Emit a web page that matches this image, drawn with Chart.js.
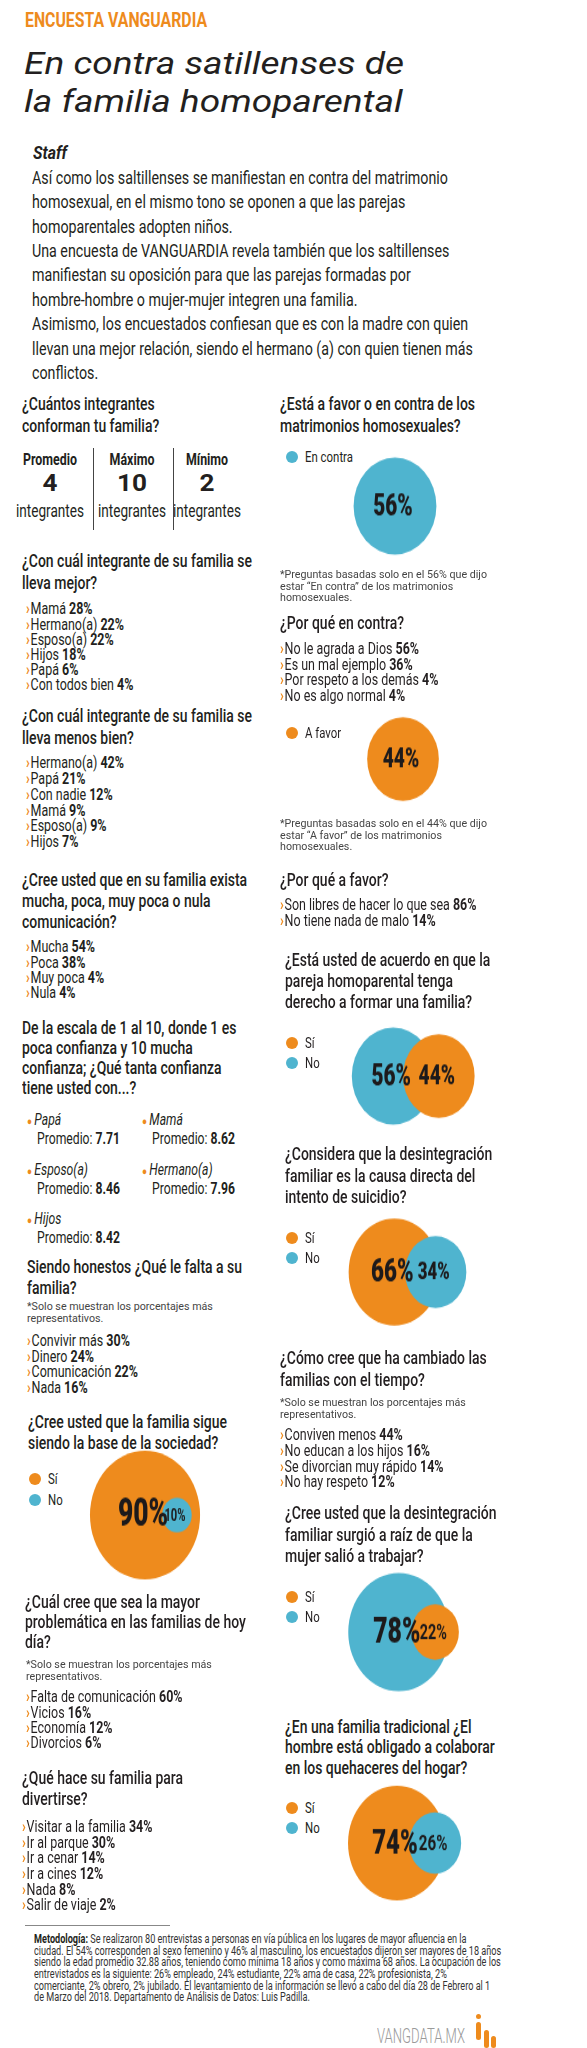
<!DOCTYPE html>
<html lang="es">
<head>
<meta charset="utf-8">
<title>En contra satillenses de la familia homoparental</title>
<script src="https://cdn.jsdelivr.net/npm/chart.js@4.4.1/dist/chart.umd.min.js"></script>
<style>
  html, body { margin: 0; padding: 0; background: #fff; }
  #page { position: relative; width: 587px; height: 2048px; overflow: hidden; color: #231f20;
    font-family: Roboto, "Liberation Sans", sans-serif; }
  .t { position: absolute; white-space: nowrap; transform-origin: 0 50%; }
  .kicker { color: #ee8b1d; font-weight: bold; font-size: 20px; }
  .title { font-style: italic; font-size: 32px; }
  .staff { font-weight: bold; font-style: italic; font-size: 18px; }
  .intro { font-size: 18px; }
  .q { font-size: 18.5px; font-weight: 500; }
  .li { font-size: 16px; }
  .li b, .conf b { font-weight: bold; }
  .arr { color: #ee8b1d; font-weight: bold; margin-right: 1px; }
  .note { font-size: 11px; color: #444; }
  .tab { font-weight: bold; font-size: 16px; text-align: center; width: 90px; transform-origin: 50% 50%; }
  .num { font-weight: bold; font-size: 23px; text-align: center; width: 90px; transform-origin: 50% 50%; }
  .unit { font-size: 18px; text-align: center; width: 90px; transform-origin: 50% 50%; }
  .conf { font-size: 16px; }
  .bul { color: #ee8b1d; font-size: 11px; margin-right: 3px; }
  .leg { font-size: 15.5px; }
  .dot { position: absolute; width: 12px; height: 12px; border-radius: 50%; }
  .metodo { font-size: 12px; color: #333; }
  .brand { font-size: 21px; font-weight: 300; color: #9a9a9a; }
  .bubble { position: absolute; transform-origin: 0 0; }
</style>
</head>
<body>
<div id="page"></div>
<script>
const integrantesLabels = ['Promedio', 'Máximo', 'Mínimo'];
const integrantesValues = [4, 10, 2];

const mejorLabels = ['Mamá', 'Hermano(a)', 'Esposo(a)', 'Hijos', 'Papá', 'Con todos bien'];
const mejorValues = [28, 22, 22, 18, 6, 4];

const menosLabels = ['Hermano(a)', 'Papá', 'Con nadie', 'Mamá', 'Esposo(a)', 'Hijos'];
const menosValues = [42, 21, 12, 9, 9, 7];

const comunicacionLabels = ['Mucha', 'Poca', 'Muy poca', 'Nula'];
const comunicacionValues = [54, 38, 4, 4];

const confianzaLabels = ['Papá', 'Mamá', 'Esposo(a)', 'Hermano(a)', 'Hijos'];
const confianzaValues = [7.71, 8.62, 8.46, 7.96, 8.42];

const faltaLabels = ['Convivir más', 'Dinero', 'Comunicación', 'Nada'];
const faltaValues = [30, 24, 22, 16];

const problemaLabels = ['Falta de comunicación', 'Vicios', 'Economía', 'Divorcios'];
const problemaValues = [60, 16, 12, 6];

const diversionLabels = ['Visitar a la familia', 'Ir al parque', 'Ir a cenar', 'Ir a cines', 'Nada', 'Salir de viaje'];
const diversionValues = [34, 30, 14, 12, 8, 2];

const contraLabels = ['No le agrada a Dios', 'Es un mal ejemplo', 'Por respeto a los demás', 'No es algo normal'];
const contraValues = [56, 36, 4, 4];

const favorLabels = ['Son libres de hacer lo que sea', 'No tiene nada de malo'];
const favorValues = [86, 14];

const cambioLabels = ['Conviven menos', 'No educan a los hijos', 'Se divorcian muy rápido', 'No hay respeto'];
const cambioValues = [44, 16, 14, 12];

// circle charts
const matrimonioLabels = ['En contra', 'A favor'];
const matrimonioValues = [56, 44];
const siNoLabels = ['Sí', 'No'];
const baseValues = [90, 10];
const derechoValues = [44, 56];
const suicidioValues = [66, 34];
const trabajarValues = [22, 78];
const hogarValues = [74, 26];

const ORANGE = '#ee8b1d';
const BLUE = '#4fb4cf';
const siNoColors = [ORANGE, BLUE];

// --- helpers ---
const page = document.getElementById('page');

// the original uses a condensed face: squeeze each text style to the measured widths
const widthTargets = {
  kicker: ['ENCUESTA VANGUARDIA', 182],
  title: ['En contra satillenses de', 380],
  staff: ['Staff', 34],
  intro: ['Así como los saltillenses se manifiestan en contra del matrimonio', 416],
  q: ['¿Con cuál integrante de su familia se', 230],
  li: ['<span class="arr">›</span>Hermano(a) <b>22%</b>', 98],
  note: ['*Preguntas basadas solo en el 56% que dijo', 207],
  tab: ['Promedio', 54],
  num: ['10', 30],
  unit: ['integrantes', 68],
  conf: ['Promedio: <b>8.62</b>', 83],
  leg: ['En contra', 48],
  metodo: ['ciudad. El 54% corresponden al sexo femenino y 46% al masculino, los encuestados dijeron ser mayores de 18 años', 467],
  brand: ['VANGDATA.MX', 88]
};
const squeeze = {};
Object.keys(widthTargets).forEach(cls => {
  const s = document.createElement('span');
  s.className = 't ' + cls;
  s.style.width = 'auto';
  s.style.visibility = 'hidden';
  s.innerHTML = widthTargets[cls][0];
  page.appendChild(s);
  squeeze[cls] = widthTargets[cls][1] / s.getBoundingClientRect().width;
  page.removeChild(s);
});

function put(x, yc, lh, html, cls) {
  const d = document.createElement('div');
  d.className = 't ' + cls;
  d.style.left = x + 'px';
  d.style.top = (yc - lh / 2) + 'px';
  d.style.lineHeight = lh + 'px';
  d.innerHTML = html;
  if (squeeze[cls]) d.style.transform = 'scaleX(' + squeeze[cls].toFixed(3) + ')';
  page.appendChild(d);
  return d;
}

function block(x, yc, lh, lines, cls) {
  return put(x, yc, lh, lines.join('<br>'), cls);
}

function list(x, yc, step, labels, values) {
  labels.forEach((lab, i) => {
    put(x, yc + i * step, step, '<span class="arr">›</span>' + lab + ' <b>' + values[i] + '%</b>', 'li');
  });
}

function legend(x, yc, step, labels, colors) {
  labels.forEach((lab, i) => {
    const y = yc + i * step;
    const d = document.createElement('div');
    d.className = 'dot';
    d.style.left = (x - 6) + 'px';
    d.style.top = (y - 6) + 'px';
    d.style.background = colors[i];
    page.appendChild(d);
    put(x + 13, y, 18, lab, 'leg');
  });
}

// radius grows with the value (softened, as in the original artwork)
function radiusFor(v) { return 3.7 * Math.pow(v, 0.6); }

const STRETCH = 1.17;

const pctLabels = {
  id: 'pctLabels',
  afterDatasetsDraw(chart) {
    const ctx = chart.ctx;
    chart.data.datasets.forEach((ds, i) => {
      const el = chart.getDatasetMeta(i).data[0];
      const r = ds.data[0].r;
      const fs = Math.round(7 + 0.47 * r);
      ctx.save();
      ctx.translate(el.x - 2, el.y + 1);
      ctx.scale(0.8, 1);
      ctx.fillStyle = '#1d1a1b';
      ctx.textAlign = 'center';
      ctx.textBaseline = 'middle';
      ctx.font = (r > 30 ? '900 ' : 'bold ') + fs + 'px Roboto, "Liberation Sans", sans-serif';
      ctx.fillText(ds.data[0].v + '%', 0, 0);
      ctx.restore();
    });
  }
};

// bubble chart: largest circle first, smaller one overlapping on its right
function circles(cx, cy, labels, values, colors) {
  const idx = values.map((v, i) => i).sort((a, b) => values[b] - values[a]);
  const pair = values.length > 1;
  const w = pair ? 174 : 130, h = 130;
  const padL = pair ? 30 : 0, padR = pair ? 30 : 0;
  const firstX = pair ? padL + (w - padL - padR) / 4 : w / 2;
  const wrap = document.createElement('div');
  wrap.className = 'bubble';
  wrap.style.left = (cx - firstX) + 'px';
  wrap.style.top = (cy - h / 2 * STRETCH) + 'px';
  wrap.style.width = w + 'px';
  wrap.style.height = h + 'px';
  wrap.style.transform = 'scaleY(' + STRETCH + ')';
  const cv = document.createElement('canvas');
  cv.width = w; cv.height = h;
  wrap.appendChild(cv);
  page.appendChild(wrap);
  new Chart(cv, {
    type: 'bubble',
    data: {
      labels: idx.map(i => labels[i]),
      datasets: idx.map(i => ({
        label: labels[i],
        data: [{ x: labels[i], y: 0, r: radiusFor(values[i]), v: values[i] }],
        backgroundColor: colors[i],
        borderWidth: 0,
        order: values[i],
        clip: false
      }))
    },
    options: {
      responsive: false,
      animation: false,
      events: [],
      layout: { padding: { left: padL, right: padR, top: 0, bottom: 0 } },
      plugins: { legend: { display: false }, tooltip: { enabled: false } },
      scales: {
        x: { type: 'category', offset: true, display: false },
        y: { type: 'linear', min: -1, max: 1, display: false }
      }
    },
    plugins: [pctLabels]
  });
}

// --- header ---
put(25, 20, 20, 'ENCUESTA VANGUARDIA', 'kicker');
block(24, 63, 38, ['En contra satillenses de', 'la familia homoparental'], 'title');
put(33, 153, 18, 'Staff', 'staff');
block(32, 178, 24.4, [
  'Así como los saltillenses se manifiestan en contra del matrimonio',
  'homosexual, en el mismo tono se oponen a que las parejas',
  'homoparentales adopten niños.',
  'Una encuesta de VANGUARDIA revela también que los saltillenses',
  'manifiestan su oposición para que las parejas formadas por',
  'hombre-hombre o mujer-mujer integren una familia.',
  'Asimismo, los encuestados confiesan que es con la madre con quien',
  'llevan una mejor relación, siendo el hermano (a) con quien tienen más',
  'conflictos.'
], 'intro');

// --- left column ---
block(22, 405, 21.7, ['¿Cuántos integrantes', 'conforman tu familia?'], 'q');
const tabX = [50, 132, 207];
integrantesLabels.forEach((lab, i) => {
  put(tabX[i] - 45, 460, 16, lab, 'tab');
  put(tabX[i] - 45, 484, 18, String(integrantesValues[i]), 'num');
  put(tabX[i] - 45, 510, 15, 'integrantes', 'unit');
});
[93, 173].forEach(x => {
  const d = document.createElement('div');
  d.style.cssText = 'position:absolute;left:' + x + 'px;top:448px;width:1px;height:82px;background:#444;';
  page.appendChild(d);
});

block(22, 562, 21.5, ['¿Con cuál integrante de su familia se', 'lleva mejor?'], 'q');
list(26, 609, 15.2, mejorLabels, mejorValues);

block(22, 717, 21.5, ['¿Con cuál integrante de su familia se', 'lleva menos bien?'], 'q');
list(26, 763, 15.8, menosLabels, menosValues);

block(22, 880, 21, ['¿Cree usted que en su familia exista', 'mucha, poca, muy poca o nula', 'comunicación?'], 'q');
list(26, 947, 15.3, comunicacionLabels, comunicacionValues);

block(22, 1028, 20, ['De la escala de 1 al 10, donde 1 es', 'poca confianza y 10 mucha', 'confianza; ¿Qué tanta confianza', 'tiene usted con...?'], 'q');
const confPos = [[27, 1120], [142, 1120], [27, 1170], [142, 1170], [27, 1219]];
confianzaLabels.forEach((lab, i) => {
  const [x, y] = confPos[i];
  put(x, y, 18, '<span class="bul">●</span><i>' + lab + '</i>', 'conf');
  put(x + 10, y + 18.5, 18, 'Promedio: <b>' + confianzaValues[i].toFixed(2) + '</b>', 'conf');
});

block(27, 1267, 21, ['Siendo honestos ¿Qué le falta a su', 'familia?'], 'q');
block(27, 1307, 11.8, ['*Solo se muestran los porcentajes más', 'representativos.'], 'note');
list(27, 1341, 15.5, faltaLabels, faltaValues);

block(28, 1422, 21, ['¿Cree usted que la familia sigue', 'siendo la base de la sociedad?'], 'q');
legend(35, 1479, 21, siNoLabels, siNoColors);
circles(132, 1515, siNoLabels, baseValues, siNoColors);

block(25, 1602, 20, ['¿Cuál cree que sea la mayor', 'problemática en las familias de hoy', 'día?'], 'q');
block(26, 1665, 11.8, ['*Solo se muestran los porcentajes más', 'representativos.'], 'note');
list(26, 1697, 15.3, problemaLabels, problemaValues);

block(22, 1778, 21, ['¿Qué hace su familia para', 'divertirse?'], 'q');
list(22, 1827, 15.6, diversionLabels, diversionValues);

// --- right column ---
block(280, 405, 21.7, ['¿Está a favor o en contra de los', 'matrimonios homosexuales?'], 'q');
legend(292, 457, 20, [matrimonioLabels[0]], [BLUE]);
circles(395, 506, [matrimonioLabels[0]], [matrimonioValues[0]], [BLUE]);
block(280, 575, 11.6, ['*Preguntas basadas solo en el 56% que dijo', 'estar “En contra” de los matrimonios', 'homosexuales.'], 'note');

put(280, 623, 21, '¿Por qué en contra?', 'q');
list(280, 649, 15.4, contraLabels, contraValues);

legend(292, 733, 20, [matrimonioLabels[1]], [ORANGE]);
circles(403, 759, [matrimonioLabels[1]], [matrimonioValues[1]], [ORANGE]);
block(280, 824, 11.6, ['*Preguntas basadas solo en el 44% que dijo', 'estar “A favor” de los matrimonios', 'homosexuales.'], 'note');

put(280, 880, 21, '¿Por qué a favor?', 'q');
list(280, 905, 16, favorLabels, favorValues);

block(285, 960, 21, ['¿Está usted de acuerdo en que la', 'pareja homoparental tenga', 'derecho a formar una familia?'], 'q');
legend(292, 1043, 20, siNoLabels, siNoColors);
circles(387, 1076, siNoLabels, derechoValues, siNoColors);

block(285, 1155, 21.5, ['¿Considera que la desintegración', 'familiar es la causa directa del', 'intento de suicidio?'], 'q');
legend(292, 1238, 20, siNoLabels, siNoColors);
circles(386, 1272, siNoLabels, suicidioValues, siNoColors);

block(280, 1358, 22, ['¿Cómo cree que ha cambiado las', 'familias con el tiempo?'], 'q');
block(280, 1403, 11.8, ['*Solo se muestran los porcentajes más', 'representativos.'], 'note');
list(280, 1435, 15.7, cambioLabels, cambioValues);

block(285, 1514, 21.5, ['¿Cree usted que la desintegración', 'familiar surgió a raíz de que la', 'mujer salió a trabajar?'], 'q');
legend(292, 1597, 20, siNoLabels, siNoColors);
circles(388, 1632, siNoLabels, trabajarValues, siNoColors);

block(285, 1727, 20.5, ['¿En una familia tradicional ¿El', 'hombre está obligado a colaborar', 'en los quehaceres del hogar?'], 'q');
legend(292, 1808, 20, siNoLabels, siNoColors);
circles(387, 1843, siNoLabels, hogarValues, siNoColors);

// --- footer ---
const sep = document.createElement('div');
sep.style.cssText = 'position:absolute;left:25px;top:1925px;width:145px;height:1px;background:#888;';
page.appendChild(sep);
block(34, 1940, 11.6, [
  '<b style="color:#231f20">Metodología:</b> Se realizaron 80 entrevistas a personas en vía pública en los lugares de mayor afluencia en la',
  'ciudad. El 54% corresponden al sexo femenino y 46% al masculino, los encuestados dijeron ser mayores de 18 años',
  'siendo la edad promedio 32.88 años, teniendo como mínima 18 años y como máxima 68 años. La ocupación de los',
  'entrevistados es la siguiente: 26% empleado, 24% estudiante, 22% ama de casa, 22% profesionista, 2%',
  'comerciante, 2% obrero, 2% jubilado. El levantamiento de la información se llevó a cabo del día 28 de Febrero al 1',
  'de Marzo del 2018. Departamento de Análisis de Datos: Luis Padilla.'
], 'metodo');
put(377, 2036, 22, 'VANGDATA.MX', 'brand');
[[476, 2022, 18], [484, 2030, 18], [491, 2036, 12]].forEach(([x, y, hgt]) => {
  const b = document.createElement('div');
  b.style.cssText = 'position:absolute;left:' + x + 'px;top:' + y + 'px;width:5px;height:' + hgt + 'px;border-radius:3px;background:' + ORANGE + ';';
  page.appendChild(b);
});
const logoDot = document.createElement('div');
logoDot.style.cssText = 'position:absolute;left:476px;top:2014px;width:5px;height:5px;border-radius:50%;background:' + ORANGE + ';';
page.appendChild(logoDot);
</script>
</body>
</html>
